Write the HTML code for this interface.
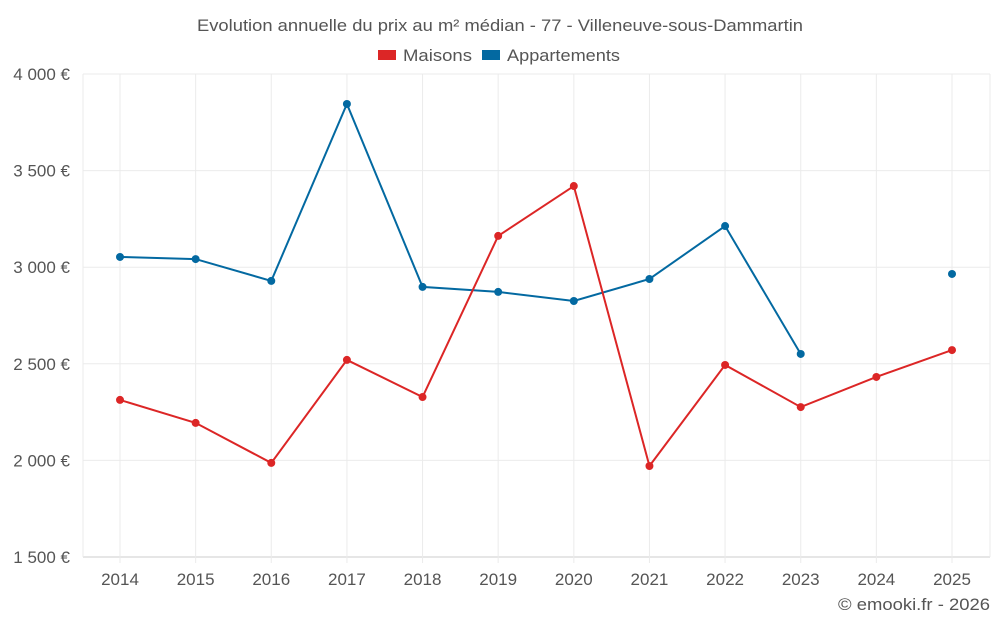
<!DOCTYPE html>
<html><head><meta charset="utf-8"><style>
body{margin:0;background:#fff;font-family:"Liberation Sans",sans-serif;}
svg text{font-family:"Liberation Sans",sans-serif;fill:#555;}
</style></head><body>
<svg width="1000" height="625">
<text x="197" y="31" textLength="606" lengthAdjust="spacingAndGlyphs" font-size="17">Evolution annuelle du prix au m² médian - 77 - Villeneuve-sous-Dammartin</text>
<g>
<g><rect x="378" y="50" width="18" height="10" fill="#dc2626"/><text x="403" y="61" font-size="17" textLength="69" lengthAdjust="spacingAndGlyphs">Maisons</text></g>
<g><rect x="482" y="50" width="18" height="10" fill="#0369a1"/><text x="507" y="61" font-size="17" textLength="113" lengthAdjust="spacingAndGlyphs">Appartements</text></g>
</g>
<g id="grid"></g>
<g id="axes"></g>
<g id="series"></g>
<text x="838" y="610" textLength="152" lengthAdjust="spacingAndGlyphs" font-size="17">© emooki.fr - 2026</text>
</svg>
<script>
const years=["2014","2015","2016","2017","2018","2019","2020","2021","2022","2023","2024","2025"];
const maisons=[2313,2194,1987,2520,2328,3162,3420,1971,2494,2276,2432,2571];
const appartements=[3053,3042,2929,3845,2898,2872,2825,2939,3213,2551,null,2965];
const yTicks=[1500,2000,2500,3000,3500,4000];
const yTickLabels=["1 500 €","2 000 €","2 500 €","3 000 €","3 500 €","4 000 €"];
const L=83,R=990,T=74,B=557,ymin=1500,ymax=4000;
const x0=120,x1=952;
const xs=i=>x0+i*(x1-x0)/(years.length-1);
const ys=v=>B-(v-ymin)/(ymax-ymin)*(B-T);
const NS="http://www.w3.org/2000/svg";
function mk(t,a,p){const e=document.createElementNS(NS,t);for(const k in a)e.setAttribute(k,a[k]);p.appendChild(e);return e;}
const grid=document.getElementById('grid'),axes=document.getElementById('axes'),ser=document.getElementById('series');
yTicks.forEach((v,i)=>{
 const l=mk('line',{x1:L,x2:R,y1:ys(v),y2:ys(v),stroke:i==0?'#ccc':'#ebebeb'},grid);
 
 
 const t=mk('text',{x:70,y:ys(v)+6,'text-anchor':'end','font-size':17},axes);t.textContent=yTickLabels[i];
 
 
});
mk('line',{x1:L,x2:L,y1:T,y2:B,stroke:'#ebebeb'},grid);
mk('line',{x1:R,x2:R,y1:T,y2:B,stroke:'#ebebeb'},grid);
years.forEach((y,i)=>{
 const l=mk('line',{x1:xs(i),x2:xs(i),y1:T,y2:B+6,stroke:'#ebebeb'},grid);
 
 
 const t=mk('text',{x:xs(i),y:585,'text-anchor':'middle','font-size':17},axes);t.textContent=y;
 
 
});
function draw(data,color,name){
 let d='',pen=false;
 data.forEach((v,i)=>{if(v==null){pen=false;return;}d+=(pen?'L':'M')+xs(i)+' '+ys(v)+' ';pen=true;});
 const p=mk('path',{d:d,fill:'none',stroke:color,'stroke-width':2},ser);
 
 
 data.forEach((v,i)=>{if(v==null)return;
  const c=mk('circle',{cx:xs(i),cy:ys(v),r:4,fill:color},ser);
  
  
 });
}
draw(appartements,'#0369a1','appartements');
draw(maisons,'#dc2626','maisons');
</script>
</body></html>
